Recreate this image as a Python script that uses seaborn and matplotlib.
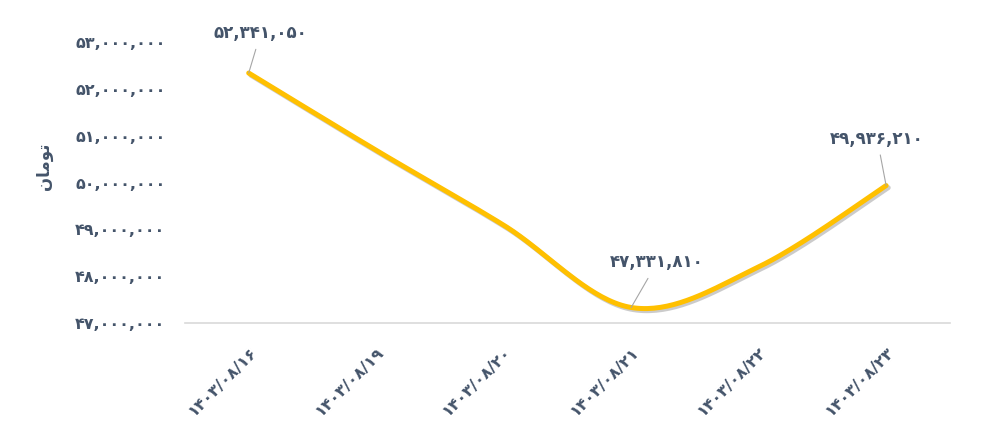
import numpy as np
import pandas as pd
import seaborn as sns
import matplotlib.pyplot as plt
from matplotlib import patheffects as pe

# chart data (Persian calendar dates, price in Toman)
dates = ["1403/08/16", "1403/08/19", "1403/08/20", "1403/08/21", "1403/08/22", "1403/08/23"]
prices = [52341050, 50690000, 49090000, 47331810, 48200000, 49936210]
labelled = [0, 3, 5]  # points that carry a data label
y_ticks = [47000000, 48000000, 49000000, 50000000, 51000000, 52000000, 53000000]

FA_DIGITS = str.maketrans("0123456789", "۰۱۲۳۴۵۶۷۸۹")
TEXT_COLOR = "#44546A"
LINE_COLOR = "#FFC000"


def fa(s):
    return str(s).translate(FA_DIGITS)


def smooth(xv, yv, n=40):
    """Excel-like smoothed line (Catmull-Rom Bezier segments)."""
    pts = np.column_stack([xv, yv]).astype(float)
    out = []
    for i in range(len(pts) - 1):
        p0 = pts[i - 1] if i > 0 else pts[i]
        p1, p2 = pts[i], pts[i + 1]
        p3 = pts[i + 2] if i + 2 < len(pts) else pts[i + 1]
        c1 = p1 + (p2 - p0) / 6
        c2 = p2 - (p3 - p1) / 6
        t = np.linspace(0, 1, n)[:, None]
        seg = ((1 - t) ** 3) * p1 + 3 * ((1 - t) ** 2) * t * c1 + 3 * (1 - t) * t ** 2 * c2 + t ** 3 * p2
        out.append(seg if i == 0 else seg[1:])
    out = np.vstack(out)
    return out[:, 0], out[:, 1]


df = pd.DataFrame({"date": dates, "price": prices})
df["pos"] = range(len(df))
sx, sy = smooth(df["pos"], df["price"])
curve = pd.DataFrame({"x": sx, "y": sy})

sns.set_theme(style="white")
plt.rcParams["font.family"] = ["DejaVu Sans"]

fig = plt.figure(figsize=(9.96, 4.32), dpi=100)
ax = fig.add_axes([0.1857, 0.2523, 0.768, 0.650])

sns.lineplot(data=curve, x="x", y="y", sort=False, ax=ax, color=LINE_COLOR, lw=3.6,
             path_effects=[pe.SimpleLineShadow(offset=(1.5, -1.5), shadow_color="#7f7f7f", alpha=0.4),
                           pe.Normal()])
ax.lines[0].set_solid_capstyle("round")

ax.set_xlim(-0.5, len(dates) - 0.5)
ax.set_ylim(y_ticks[0], y_ticks[-1])
ax.set_xticks(df["pos"])
ax.set_xticklabels([fa(d) for d in dates], rotation=45, ha="right", va="top",
                   rotation_mode="anchor", fontsize=11.5, fontweight="bold", color=TEXT_COLOR)
ax.set_yticks(y_ticks)
ax.set_yticklabels([fa(f"{v:,}") for v in y_ticks], fontsize=11.5, fontweight="bold", color=TEXT_COLOR)
ax.tick_params(axis="x", length=0, pad=15)
ax.tick_params(axis="y", length=0, pad=14)
ax.set_xlabel("")
ax.set_ylabel("")

for side in ["top", "right", "left"]:
    ax.spines[side].set_visible(False)
ax.spines["bottom"].set_color("#D9D9D9")
ax.spines["bottom"].set_linewidth(1.2)

# data labels with leader lines
offsets = {0: (12, 40), 3: (26, 45), 5: (-9, 47)}
for i in labelled:
    ax.annotate(fa(f"{prices[i]:,}"), xy=(df["pos"][i], prices[i]), xytext=offsets[i],
                textcoords="offset pixels", ha="center", va="center",
                fontsize=12, fontweight="bold", color=TEXT_COLOR,
                arrowprops=dict(arrowstyle="-", color="#A6A6A6", lw=0.8, shrinkA=3, shrinkB=0))

# y-axis title "تومان" in presentation forms (visual order)
fig.text(0.044, 0.615, "\uFEE5\uFE8E\uFEE3\uFEEE\uFE97", rotation=90, ha="center", va="center",
         fontsize=12, fontweight="bold", color=TEXT_COLOR)

fig.savefig("out.png", dpi=100)
